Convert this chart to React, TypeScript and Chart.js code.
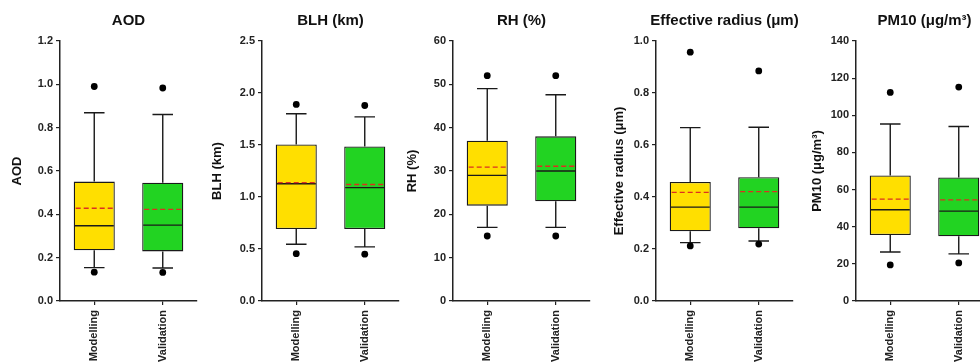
import React, { useEffect, useRef } from 'react';
import { Chart, registerables } from 'chart.js';

Chart.register(...registerables);

const FONT = "'Liberation Sans', Arial, Helvetica, sans-serif";

const categories = ['Modelling', 'Validation'];
const panelTitles = ['AOD', 'BLH (km)', 'RH (%)', 'Effective radius (μm)', 'PM10 (μg/m³)'];
const axisTitles = ['AOD', 'BLH (km)', 'RH (%)', 'Effective radius (μm)', 'PM10 (μg/m³)'];
const yMax = [1.2, 2.5, 60, 1.0, 140];
const yStep = [0.2, 0.5, 10, 0.2, 20];
const yDecimals = [1, 1, 0, 1, 0];

// stats order: [lower whisker, Q1, median, Q3, upper whisker, mean, low outlier, high outlier]
const aodModelling = [0.154, 0.234, 0.347, 0.551, 0.869, 0.428, 0.133, 0.99];
const aodValidation = [0.152, 0.229, 0.35, 0.546, 0.861, 0.423, 0.132, 0.983];
const blhModelling = [0.545, 0.693, 1.128, 1.505, 1.8, 1.138, 0.455, 1.89];
const blhValidation = [0.52, 0.693, 1.09, 1.485, 1.77, 1.12, 0.45, 1.88];
const rhModelling = [17.0, 22.0, 29.0, 37.0, 49.0, 30.9, 15.0, 52.0];
const rhValidation = [17.0, 23.0, 30.0, 38.0, 47.6, 31.1, 15.0, 52.0];
const reffModelling = [0.2245, 0.268, 0.361, 0.458, 0.667, 0.418, 0.212, 0.957];
const reffValidation = [0.231, 0.28, 0.361, 0.476, 0.668, 0.421, 0.219, 0.885];
const pm10Modelling = [26.4, 35.5, 49.1, 67.6, 95.3, 54.9, 19.4, 112.3];
const pm10Validation = [25.4, 34.8, 48.4, 66.5, 94.0, 54.5, 20.5, 115.2];

const panelStats = [
  [aodModelling, aodValidation],
  [blhModelling, blhValidation],
  [rhModelling, rhValidation],
  [reffModelling, reffValidation],
  [pm10Modelling, pm10Validation],
];

const boxColors = ['#FFDF00', '#22D322'];

// layout (pixels)
const panelAxisX = [60, 262, 453, 656, 856];
const yTitlePad = [10, 8, 12, 16, 14];
const CANVAS_W = 230;
const CANVAS_H = 363;
const Y_AXIS_W = 60;
const PLOT_W = 137;
const PLOT_TOP = 41;
const X_AXIS_H = 62;

function makeBoxPlugin(stats: number[][], title: string) {
  return {
    id: 'boxWhisker',
    beforeDatasetsDraw(chart: any) {
      const { ctx, scales } = chart;
      const x = scales.x;
      const y = scales.y;
      const meta = chart.getDatasetMeta(0);
      ctx.save();
      ctx.strokeStyle = '#1a1a1a';
      ctx.lineWidth = 1.4;
      stats.forEach((s, i) => {
        const cx = x.getPixelForValue(i);
        const bw = meta.data[i].width;
        const cap = bw * 0.5;
        const yLo = y.getPixelForValue(s[0]);
        const yQ1 = y.getPixelForValue(s[1]);
        const yQ3 = y.getPixelForValue(s[3]);
        const yHi = y.getPixelForValue(s[4]);
        ctx.beginPath();
        ctx.moveTo(cx, yLo);
        ctx.lineTo(cx, yQ1);
        ctx.moveTo(cx, yQ3);
        ctx.lineTo(cx, yHi);
        ctx.moveTo(cx - cap / 2, yLo);
        ctx.lineTo(cx + cap / 2, yLo);
        ctx.moveTo(cx - cap / 2, yHi);
        ctx.lineTo(cx + cap / 2, yHi);
        ctx.stroke();
      });
      ctx.restore();
    },
    afterDatasetsDraw(chart: any) {
      const { ctx, scales } = chart;
      const x = scales.x;
      const y = scales.y;
      const meta = chart.getDatasetMeta(0);
      ctx.save();
      stats.forEach((s, i) => {
        const cx = x.getPixelForValue(i);
        const bw = meta.data[i].width;
        const l = cx - bw / 2 + 1;
        const r = cx + bw / 2 - 1;
        const yMed = y.getPixelForValue(s[2]);
        const yMean = y.getPixelForValue(s[5]);
        ctx.setLineDash([]);
        ctx.strokeStyle = '#1a1a1a';
        ctx.lineWidth = 1.4;
        ctx.beginPath();
        ctx.moveTo(l, yMed);
        ctx.lineTo(r, yMed);
        ctx.stroke();
        ctx.setLineDash([5, 3]);
        ctx.strokeStyle = '#DC3020';
        ctx.lineWidth = 1.3;
        ctx.beginPath();
        ctx.moveTo(l + 1, yMean);
        ctx.lineTo(r, yMean);
        ctx.stroke();
      });
      ctx.restore();
    },
    afterDraw(chart: any) {
      const { ctx, chartArea } = chart;
      ctx.save();
      ctx.font = `bold 15px ${FONT}`;
      ctx.fillStyle = '#111';
      ctx.textAlign = 'center';
      ctx.textBaseline = 'middle';
      ctx.fillText(title, (chartArea.left + chartArea.right) / 2, 21);
      ctx.restore();
    },
  };
}

function Panel({ idx }: { idx: number }) {
  const ref = useRef<HTMLCanvasElement | null>(null);
  useEffect(() => {
    if (!ref.current) return;
    const stats = panelStats[idx];
    const dec = yDecimals[idx];
    const chart = new Chart(ref.current, {
      type: 'bar',
      data: {
        labels: categories,
        datasets: [
          {
            type: 'bar',
            data: stats.map((s) => [s[1], s[3]]),
            backgroundColor: boxColors,
            borderColor: '#1a1a1a',
            borderWidth: 1.3,
            borderSkipped: false,
            barPercentage: 0.6,
            categoryPercentage: 1.0,
          } as any,
          {
            type: 'line',
            data: stats.map((s) => s[7]),
            showLine: false,
            pointRadius: 3.4,
            pointBackgroundColor: '#000',
            pointBorderColor: '#000',
            pointBorderWidth: 0,
          } as any,
          {
            type: 'line',
            data: stats.map((s) => s[6]),
            showLine: false,
            pointRadius: 3.4,
            pointBackgroundColor: '#000',
            pointBorderColor: '#000',
            pointBorderWidth: 0,
          } as any,
        ],
      },
      options: {
        responsive: false,
        animation: false,
        devicePixelRatio: 1,
        layout: {
          padding: { top: PLOT_TOP, right: CANVAS_W - Y_AXIS_W - PLOT_W, left: 0, bottom: 0 },
        },
        plugins: {
          legend: { display: false },
          tooltip: { enabled: false },
          title: { display: false },
        },
        scales: {
          x: {
            type: 'category',
            offset: true,
            grid: {
              display: true,
              drawOnChartArea: false,
              offset: false,
              tickLength: 4,
              color: '#222',
              lineWidth: 1.2,
            },
            border: { display: true, color: '#222', width: 1.5 },
            ticks: {
              minRotation: 90,
              maxRotation: 90,
              padding: 5,
              color: '#222',
              font: { family: FONT, size: 11, weight: 'bold' },
            },
            afterFit: (s: any) => {
              s.height = X_AXIS_H;
            },
          },
          y: {
            min: 0,
            max: yMax[idx],
            grid: {
              display: true,
              drawOnChartArea: false,
              tickLength: 4,
              color: '#222',
              lineWidth: 1.2,
            },
            border: { display: true, color: '#222', width: 1.5 },
            ticks: {
              stepSize: yStep[idx],
              padding: 3,
              color: '#222',
              font: { family: FONT, size: 11, weight: 'bold' },
              callback: (v: any) => Number(v).toFixed(dec),
            },
            title: {
              display: true,
              text: axisTitles[idx],
              color: '#111',
              font: { family: FONT, size: 13, weight: 'bold' },
              padding: { top: yTitlePad[idx], bottom: 0 },
            },
            afterFit: (s: any) => {
              s.width = Y_AXIS_W;
            },
          },
        },
      } as any,
      plugins: [makeBoxPlugin(stats, panelTitles[idx])],
    });
    return () => chart.destroy();
  }, [idx]);
  return (
    <div
      style={{
        position: 'absolute',
        left: panelAxisX[idx] - Y_AXIS_W,
        top: 0,
        width: CANVAS_W,
        height: CANVAS_H,
      }}
    >
      <canvas
        ref={ref}
        width={CANVAS_W}
        height={CANVAS_H}
        style={{ display: 'block', width: CANVAS_W, height: CANVAS_H }}
      />
    </div>
  );
}

export default function App() {
  return (
    <div
      style={{
        position: 'fixed',
        left: 0,
        top: 0,
        width: 980,
        height: 363,
        overflow: 'hidden',
        background: '#fff',
      }}
    >
      {panelTitles.map((_, i) => (
        <Panel key={i} idx={i} />
      ))}
    </div>
  );
}
